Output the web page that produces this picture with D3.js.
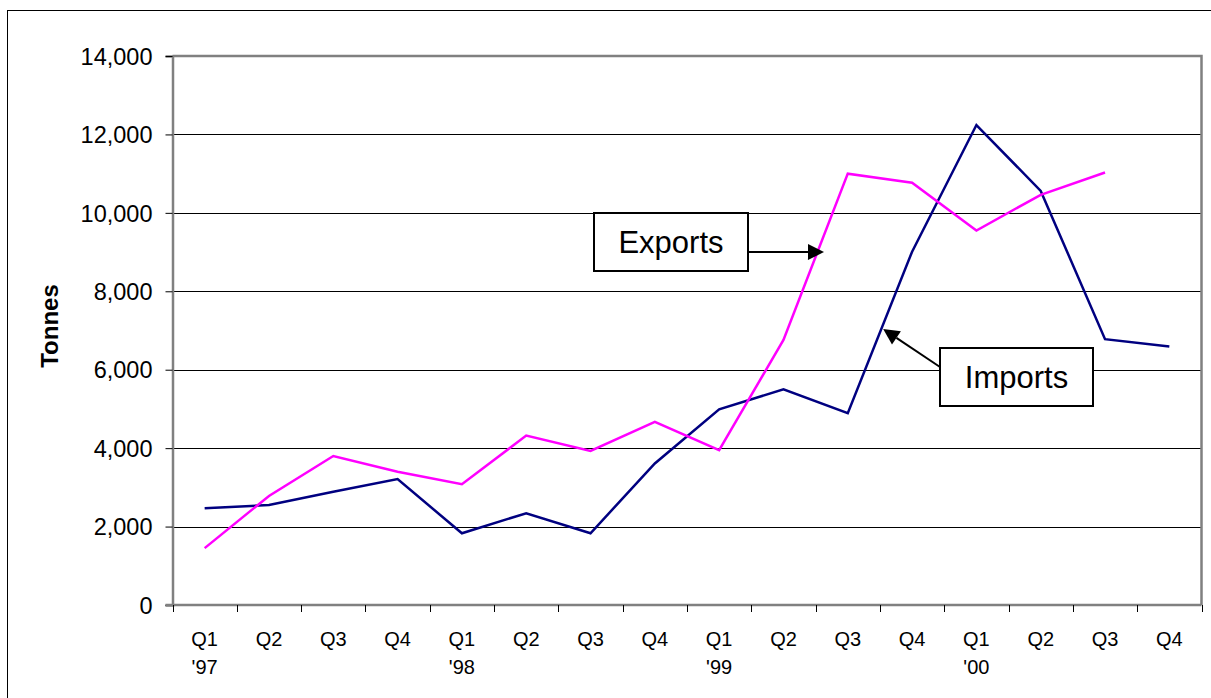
<!DOCTYPE html>
<html lang="en">
<head>
  <meta charset="UTF-8">
  <title>Tonnes</title>
  <script src="https://cdn.jsdelivr.net/npm/d3@7"></script>
  <style>
    body { margin: 0; background: #fff; }
    text { font-family: Arial, "Liberation Sans", sans-serif; fill: #000; }
  </style>
</head>
<body>
  <svg id="chart"></svg>
  <script>
    // quarterly data, Q1 '97 .. Q4 '00
    const quarters = ['Q1', 'Q2', 'Q3', 'Q4', 'Q1', 'Q2', 'Q3', 'Q4', 'Q1', 'Q2', 'Q3', 'Q4', 'Q1', 'Q2', 'Q3', 'Q4'];
    const years = ["'97", '', '', '', "'98", '', '', '', "'99", '', '', '', "'00", '', '', ''];
    const imports = [2470, 2550, 2890, 3210, 1830, 2340, 1830, 3610, 4990, 5500, 4890, 9010, 12240, 10560, 6780, 6590];
    const exports = [1450, 2780, 3800, 3400, 3080, 4320, 3930, 4670, 3950, 6760, 11000, 10770, 9550, 10460, 11030, null];
    const yTicks = [0, 2000, 4000, 6000, 8000, 10000, 12000, 14000];

    const width = 1211, height = 698;
    const margin = { top: 56, right: 10, bottom: 93, left: 172.5 };
    const plotW = 1201.5 - margin.left;
    const plotH = 605 - margin.top;

    const svg = d3.select('#chart')
        .attr('width', width)
        .attr('height', height);

    // outer frame
    svg.append('rect')
        .attr('x', 7.5).attr('y', 10.5)
        .attr('width', 1300).attr('height', 800)
        .attr('fill', 'none')
        .attr('stroke', '#000')
        .attr('stroke-width', 1);

    let x = d3.scaleBand()
        .domain(d3.range(quarters.length))
        .range([margin.left, margin.left + plotW]);

    let y = d3.scaleLinear()
        .domain([0, 14000])
        .range([605, 56]);

    // gridlines
    svg.append('g')
        .selectAll('line')
        .data(yTicks.filter(d => d > 0 && d < 14000))
        .enter()
        .append('line')
        .attr('x1', margin.left)
        .attr('x2', margin.left + plotW)
        .attr('y1', d => Math.round(y(d)) + 0.5)
        .attr('y2', d => Math.round(y(d)) + 0.5)
        .attr('stroke', '#000')
        .attr('stroke-width', 1);

    // plot area frame (top/right)
    svg.append('path')
        .attr('d', `M${margin.left},${y(14000)}H${margin.left + plotW}V${y(0)}`)
        .attr('fill', 'none')
        .attr('stroke', '#808080')
        .attr('stroke-width', 2.5);

    // y axis
    let yAxis = d3.axisLeft(y)
        .tickValues(yTicks)
        .tickSize(7)
        .tickPadding(13)
        .tickFormat(d3.format(','));
    let yG = svg.append('g')
        .attr('transform', `translate(${margin.left},0)`)
        .call(yAxis);
    yG.select('.domain').attr('stroke', '#808080').attr('stroke-width', 2.5);
    yG.selectAll('.tick line').attr('stroke', '#000');
    yG.selectAll('.tick text')
        .style('font-size', '23.5px')
        .attr('dy', '0.35em');

    // x axis: ticks on category boundaries
    let xG = svg.append('g');
    xG.append('line')
        .attr('x1', margin.left - 7).attr('x2', margin.left + plotW)
        .attr('y1', y(0)).attr('y2', y(0))
        .attr('stroke', '#808080')
        .attr('stroke-width', 2.5);
    xG.selectAll('.xtick')
        .data(d3.range(quarters.length + 1))
        .enter()
        .append('line')
        .attr('class', 'xtick')
        .attr('x1', d => Math.round(margin.left + d * x.step()) + 0.5)
        .attr('x2', d => Math.round(margin.left + d * x.step()) + 0.5)
        .attr('y1', y(0))
        .attr('y2', y(0) + 7)
        .attr('stroke', '#000');
    xG.selectAll('.qlabel')
        .data(quarters)
        .enter()
        .append('text')
        .attr('class', 'qlabel')
        .attr('x', (d, i) => x(i) + x.bandwidth() / 2)
        .attr('y', 646)
        .attr('text-anchor', 'middle')
        .style('font-size', '20px')
        .text(d => d);
    xG.selectAll('.ylabel')
        .data(years)
        .enter()
        .append('text')
        .attr('class', 'ylabel')
        .attr('x', (d, i) => x(i) + x.bandwidth() / 2)
        .attr('y', 674)
        .attr('text-anchor', 'middle')
        .style('font-size', '20px')
        .text(d => d);

    // axis title
    svg.append('text')
        .attr('transform', 'translate(58,326) rotate(-90)')
        .attr('text-anchor', 'middle')
        .style('font-size', '24px')
        .style('font-weight', 'bold')
        .text('Tonnes');

    // series
    let line = d3.line()
        .defined(d => d != null)
        .x((d, i) => x(i) + x.bandwidth() / 2)
        .y(d => y(d));

    svg.append('path')
        .datum(imports)
        .attr('d', line)
        .attr('fill', 'none')
        .attr('stroke', '#000080')
        .attr('stroke-width', 2.5)
        .attr('stroke-linejoin', 'miter');

    svg.append('path')
        .datum(exports)
        .attr('d', line)
        .attr('fill', 'none')
        .attr('stroke', '#ff00ff')
        .attr('stroke-width', 2.5)
        .attr('stroke-linejoin', 'miter');

    // callouts: tip in data space (category index, value), box in pixels
    const callouts = [
      { text: 'Exports', tip: [9.63, 9000], box: [594, 213, 154, 58], from: [748, 252] },
      { text: 'Imports', tip: [10.55, 7040], box: [940, 348, 153, 58], from: [940, 367] }
    ];

    let cg = svg.append('g');
    callouts.forEach(c => {
      let tx = margin.left + (c.tip[0] + 0.5) * x.step();
      let ty = y(c.tip[1]);
      let [fx, fy] = c.from;
      let ang = Math.atan2(ty - fy, tx - fx);
      let len = 16, half = 8;
      let bx = tx - len * Math.cos(ang), by = ty - len * Math.sin(ang);
      cg.append('line')
          .attr('x1', fx).attr('y1', fy)
          .attr('x2', bx).attr('y2', by)
          .attr('stroke', '#000')
          .attr('stroke-width', 2);
      cg.append('path')
          .attr('d', `M${tx},${ty}L${bx + half * Math.sin(ang)},${by - half * Math.cos(ang)}L${bx - half * Math.sin(ang)},${by + half * Math.cos(ang)}Z`)
          .attr('fill', '#000');
      cg.append('rect')
          .attr('x', c.box[0]).attr('y', c.box[1])
          .attr('width', c.box[2]).attr('height', c.box[3])
          .attr('fill', '#fff')
          .attr('stroke', '#000')
          .attr('stroke-width', 2);
      cg.append('text')
          .attr('x', c.box[0] + c.box[2] / 2)
          .attr('y', c.box[1] + c.box[3] / 2)
          .attr('dy', '0.35em')
          .attr('text-anchor', 'middle')
          .style('font-size', '31px')
          .text(c.text);
    });
  </script>
</body>
</html>
